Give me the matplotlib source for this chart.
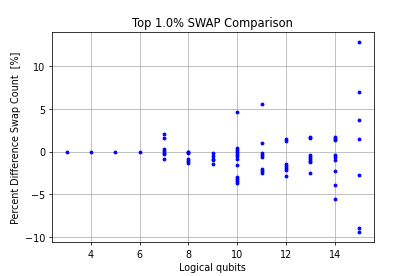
import matplotlib
matplotlib.use("Agg")
import matplotlib.pyplot as plt

qubits_3 = [3]
vals_3 = [0.0]
qubits_4 = [4]
vals_4 = [0.0]
qubits_5 = [5]
vals_5 = [0.0]
qubits_6 = [6]
vals_6 = [0.0]
vals_7 = [2.12, 1.65, 0.35, 0.12, -0.12, -0.27, -0.86]
vals_8 = [0.0, -0.1, -0.12, -0.86, -1.06, -1.3]
vals_9 = [-0.15, -0.47, -0.82, -1.0, -1.41]
vals_10 = [4.68, 0.39, 0.2, -0.04, -0.27, -0.55, -0.82, -1.61, -2.94, -3.18, -3.42, -3.65]
vals_11 = [5.62, 0.99, -0.15, -0.39, -0.59, -2.0, -2.24, -2.47]
vals_12 = [1.5, 1.26, -1.45, -1.69, -1.92, -2.16, -2.83]
vals_13 = [1.77, 1.62, -0.35, -0.59, -0.82, -1.06, -1.25, -2.55]
vals_14 = [1.77, 1.53, 1.34, -0.39, -0.62, -0.98, -2.24, -3.93, -5.58]
vals_15 = [12.9, 7.0, 3.66, 1.46, -2.75, -8.96, -9.5]

groups = {3: vals_3, 4: vals_4, 5: vals_5, 6: vals_6, 7: vals_7, 8: vals_8,
          9: vals_9, 10: vals_10, 11: vals_11, 12: vals_12, 13: vals_13,
          14: vals_14, 15: vals_15}

xs, ys = [], []
for q, vals in groups.items():
    for v in vals:
        xs.append(q)
        ys.append(v)

fig = plt.figure(figsize=(6, 4), dpi=69.2)
ax = fig.add_axes([52 / 415, (277 - 243) / 277, (373.5 - 52) / 415, (243 - 33) / 277])
ax.plot(xs, ys, 'b.', linestyle='none')
ax.grid(True)
ax.set_title("Top 1.0% SWAP Comparison")
ax.set_xlabel("Logical qubits")
ax.set_ylabel("Percent Difference Swap Count  [%]")
fig.savefig("out.png", dpi=69.2)
